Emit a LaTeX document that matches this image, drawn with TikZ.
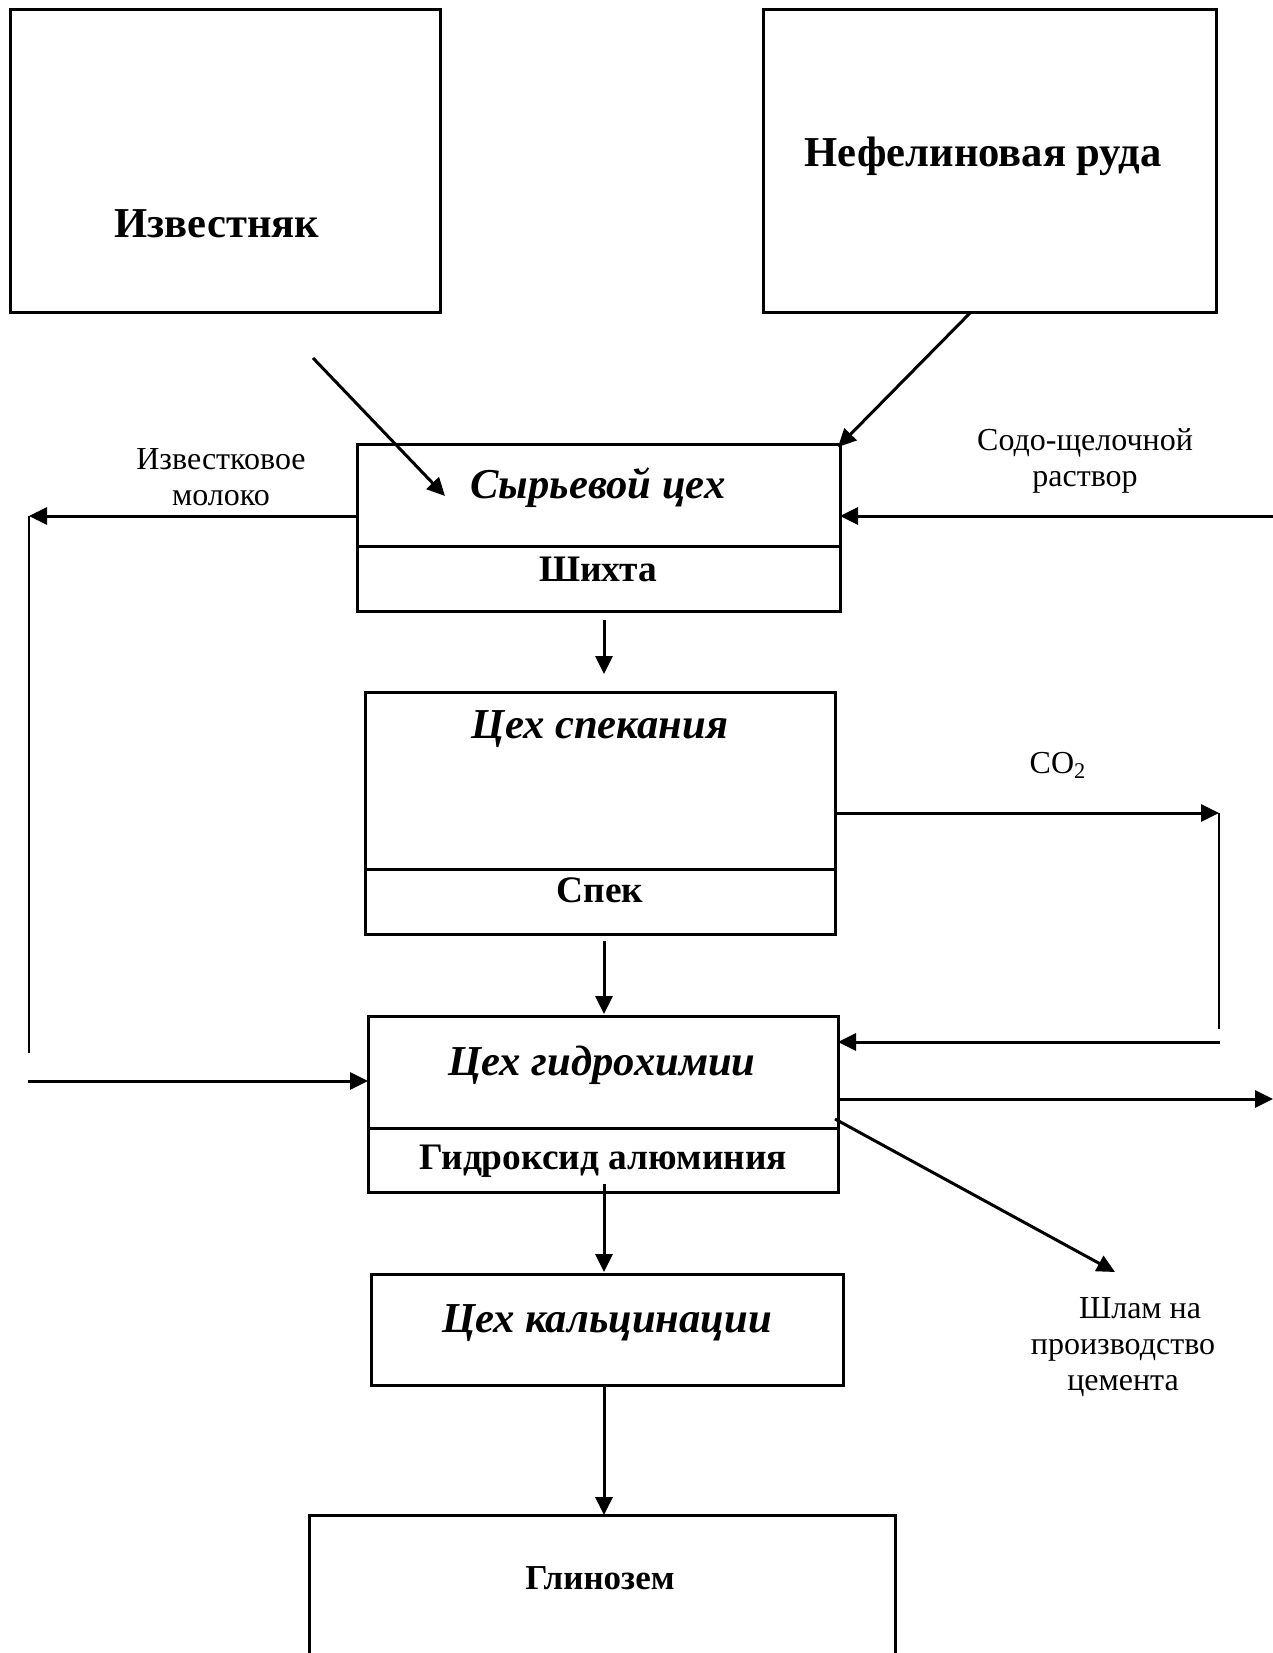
\documentclass[tikz,border=0pt]{standalone}
\usepackage{fontspec}
\setmainfont{Liberation Serif}
\usetikzlibrary{arrows.meta,calc}

\tikzset{
  box/.style 2 args={draw, line width=1.5pt, minimum width=#1*0.5pt, minimum height=#2*0.5pt,
    anchor=north west, inner sep=0pt, outer sep=0pt},
  arr/.style={-{Triangle[length=9pt,width=8.5pt]}, line width=1.5pt},
  riser/.style={line width=1.2pt},
  title/.style={font=\fontsize{21.3}{25}\selectfont\bfseries, anchor=base, inner sep=0pt},
  ititle/.style={font=\fontsize{21.3}{25}\selectfont\bfseries\itshape, anchor=base, inner sep=0pt},
  sub/.style={font=\fontsize{18.7}{22}\selectfont\bfseries, anchor=base, inner sep=0pt},
  gsub/.style={font=\fontsize{17.5}{20}\selectfont\bfseries, anchor=base, inner sep=0pt},
  lbl/.style={font=\fontsize{16}{18}\selectfont, align=center, anchor=base, inner sep=0pt}
}

\begin{document}
\begin{tikzpicture}[x=0.5pt, y=-0.5pt]
\clip[use as bounding box] (0,0) rectangle (1273,1653);

\node[box={430}{302}] (izv) at (10,10) {};
\node[box={453}{302}] (nef) at (763,10) {};
\node[box={483}{102}] (syr) at (357,444) {};
\node[box={483}{65}] (shx) at (357,546) {};
\node[box={470}{177}] (spek) at (365,692) {};
\node[box={470}{65}] (spk) at (365,869) {};
\node[box={470}{112}] (gid) at (368,1016) {};
\node[box={470}{64}] (gal) at (368,1128) {};
\node[box={472}{111}] (kal) at (371,1274) {};
\node[box={586}{200}] (gln) at (309,1515) {};

\node[title] (izv-t) at (217,237) {Известняк};
\node[title] (nef-t) at (983,167) {Нефелиновая руда};
\node[ititle] (syr-t) at (598,498) {Сырьевой цех};
\node[sub] (shx-t) at (598,581) {Шихта};
\node[ititle] (spek-t) at (600,738) {Цех спекания};
\node[sub] (spk-t) at (600,902) {Спек};
\node[ititle] (gid-t) at (602,1075) {Цех гидрохимии};
\node[sub] (gal-t) at (603,1169) {Гидроксид алюминия};
\node[ititle] (kal-t) at (607,1332) {Цех кальцинации};
\node[gsub] (gln-t) at (600,1589) {Глинозем};

\node[lbl] (mol) at (221,505) {Известковое\\молоко};
\node[lbl] (soda) at (1085,486) {Содо-щелочной\\раствор};
\node[lbl] (co2) at (1058,773) {CO\textsubscript{2}};
\node[lbl] (slam) at (1123,1390) {\hspace*{17pt}Шлам на\\производство\\цемента};

\coordinate (lm-a) at (29,516);
\coordinate (lm-b) at (29,1053);
\coordinate (lm-c) at (28,1081);
\coordinate (sd) at (1273,516);
\coordinate (co-a) at (1219,813);
\coordinate (co-b) at (1219,1029);
\coordinate (co-c) at (1220,1042);
\coordinate (out) at (1273,1099);
\coordinate (slam-a) at (1115,1272);

\draw[arr] ($(izv.south west)+(303,46)$) -- ($(syr.north west)+(88,52)$);
\draw[arr] ($(nef.south west)+(208,0)$) -- ($(syr.north east)+(-2,3)$);

\draw[arr] (syr.west |- lm-a) -- (lm-a);
\draw[riser] (lm-a) -- (lm-b);
\draw[arr] (lm-c) -- (lm-c -| gid.west);
\draw[arr] (sd) -- (sd -| syr.east);

\draw[arr] ($(shx.south)+(5.5,9)$) -- ($(spek.north)+(4,-18)$);
\draw[arr] (spek.east |- co-a) -- (co-a);
\draw[riser] (co-a) -- (co-b);
\draw[arr] (co-c) -- (co-c -| gid.east);
\draw[arr] ($(spk.south)+(4,7)$) -- ($(gid.north)+(1,-2)$);

\draw[arr] (gid.east |- out) -- (out);
\draw[arr] ($(gid.north east)+(-3,103)$) -- (slam-a);
\draw[arr] ($(gal.south)+(1,-8)$) -- ($(kal.north)+(-3,-2)$);
\draw[arr] ($(kal.south)+(-3,2)$) -- ($(gln.north)+(2,0)$);

\end{tikzpicture}
\end{document}
